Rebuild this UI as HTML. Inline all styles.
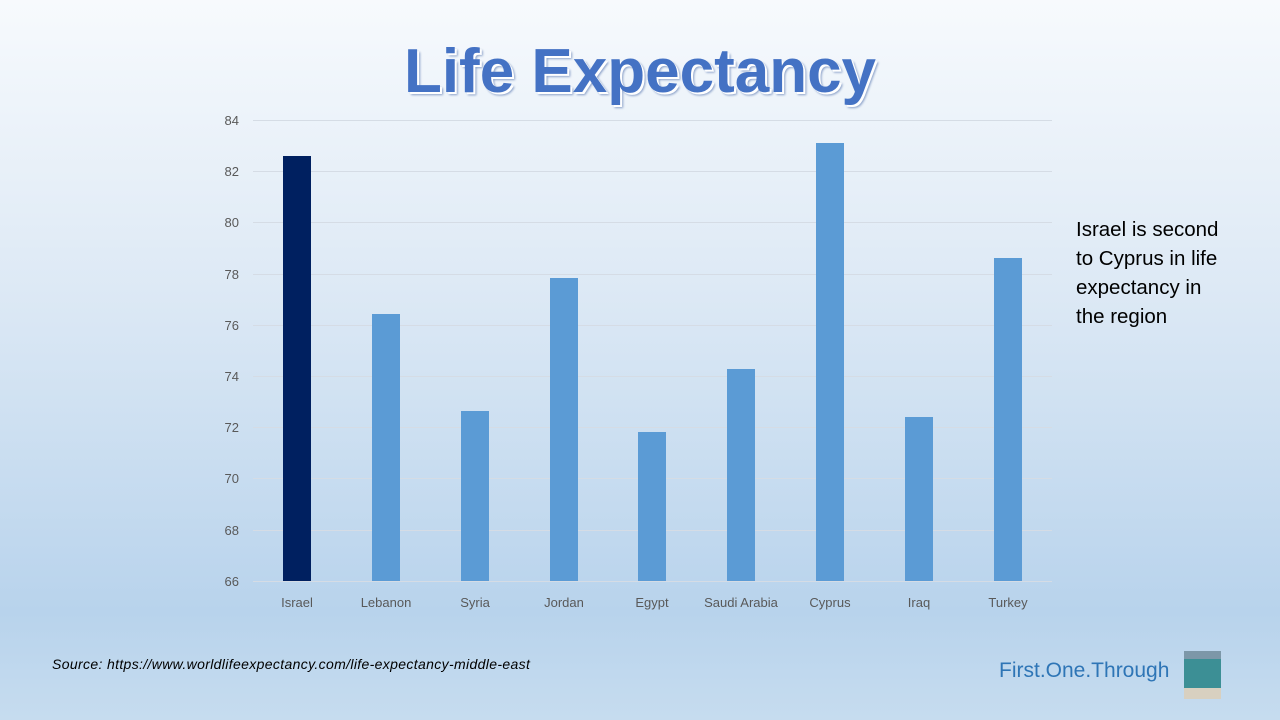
<!DOCTYPE html>
<html><head><meta charset="utf-8"><style>
body{margin:0;width:1280px;height:720px;overflow:hidden;position:relative;font-family:"Liberation Sans",sans-serif;
background:linear-gradient(to bottom,#f7fafd 0%,#dde9f5 40%,#b8d3ec 85%,#c6dcef 100%);}
.t{position:absolute;}
</style></head><body>
<div class="t" style="left:0;width:1280px;top:36px;text-align:center;font:bold 62px 'Liberation Sans',sans-serif;color:#4472c4;text-shadow:2px 2px 0 #fff,3px 3px 2px #8aa0c8;">Life Expectancy</div>
<svg class="t" style="left:0;top:0" width="1280" height="720">
<g stroke="#d5dce5" stroke-width="1">
<line x1="253" x2="1052" y1="120.5" y2="120.5"/><line x1="253" x2="1052" y1="171.5" y2="171.5"/>
<line x1="253" x2="1052" y1="222.5" y2="222.5"/><line x1="253" x2="1052" y1="274.5" y2="274.5"/>
<line x1="253" x2="1052" y1="325.5" y2="325.5"/><line x1="253" x2="1052" y1="376.5" y2="376.5"/>
<line x1="253" x2="1052" y1="427.5" y2="427.5"/><line x1="253" x2="1052" y1="478.5" y2="478.5"/>
<line x1="253" x2="1052" y1="530.5" y2="530.5"/><line x1="253" x2="1052" y1="581.5" y2="581.5"/>
</g>
<g font-size="13" fill="#595959" text-anchor="end" font-family="Liberation Sans">
<text x="239" y="125">84</text><text x="239" y="176">82</text><text x="239" y="227">80</text>
<text x="239" y="279">78</text><text x="239" y="330">76</text><text x="239" y="381">74</text>
<text x="239" y="432">72</text><text x="239" y="483">70</text><text x="239" y="535">68</text><text x="239" y="586">66</text>
</g>
<rect x="283" y="156" width="28" height="425" fill="#002060"/>
<g fill="#5b9bd5">
<rect x="372" y="314" width="28" height="267"/><rect x="461" y="411" width="28" height="170"/>
<rect x="550" y="278" width="28" height="303"/><rect x="638" y="432" width="28" height="149"/>
<rect x="727" y="369" width="28" height="212"/><rect x="816" y="143" width="28" height="438"/>
<rect x="905" y="417" width="28" height="164"/><rect x="994" y="258" width="28" height="323"/>
</g>
<g font-size="13" fill="#595959" text-anchor="middle" font-family="Liberation Sans">
<text x="297" y="607">Israel</text><text x="386" y="607">Lebanon</text><text x="475" y="607">Syria</text>
<text x="564" y="607">Jordan</text><text x="652" y="607">Egypt</text><text x="741" y="607">Saudi Arabia</text>
<text x="830" y="607">Cyprus</text><text x="919" y="607">Iraq</text><text x="1008" y="607">Turkey</text>
</g>
<rect x="1184" y="651" width="37" height="48" fill="#3c8f95"/>
<rect x="1184" y="651" width="37" height="8" fill="#7d97a8"/>
<rect x="1184" y="688" width="37" height="11" fill="#d8d0c0"/>
</svg>
<div class="t" style="left:1076px;top:215px;font-size:20.5px;line-height:29px;color:#000;">Israel is second<br>to Cyprus in life<br>expectancy in<br>the region</div>
<div class="t" style="left:52px;top:656px;font-size:14px;letter-spacing:0.35px;font-style:italic;color:#000;">Source: https://www.worldlifeexpectancy.com/life-expectancy-middle-east</div>
<div class="t" style="left:999px;top:659px;font-size:21px;color:#2e75b6;">First.One.Through</div>
</body></html>
